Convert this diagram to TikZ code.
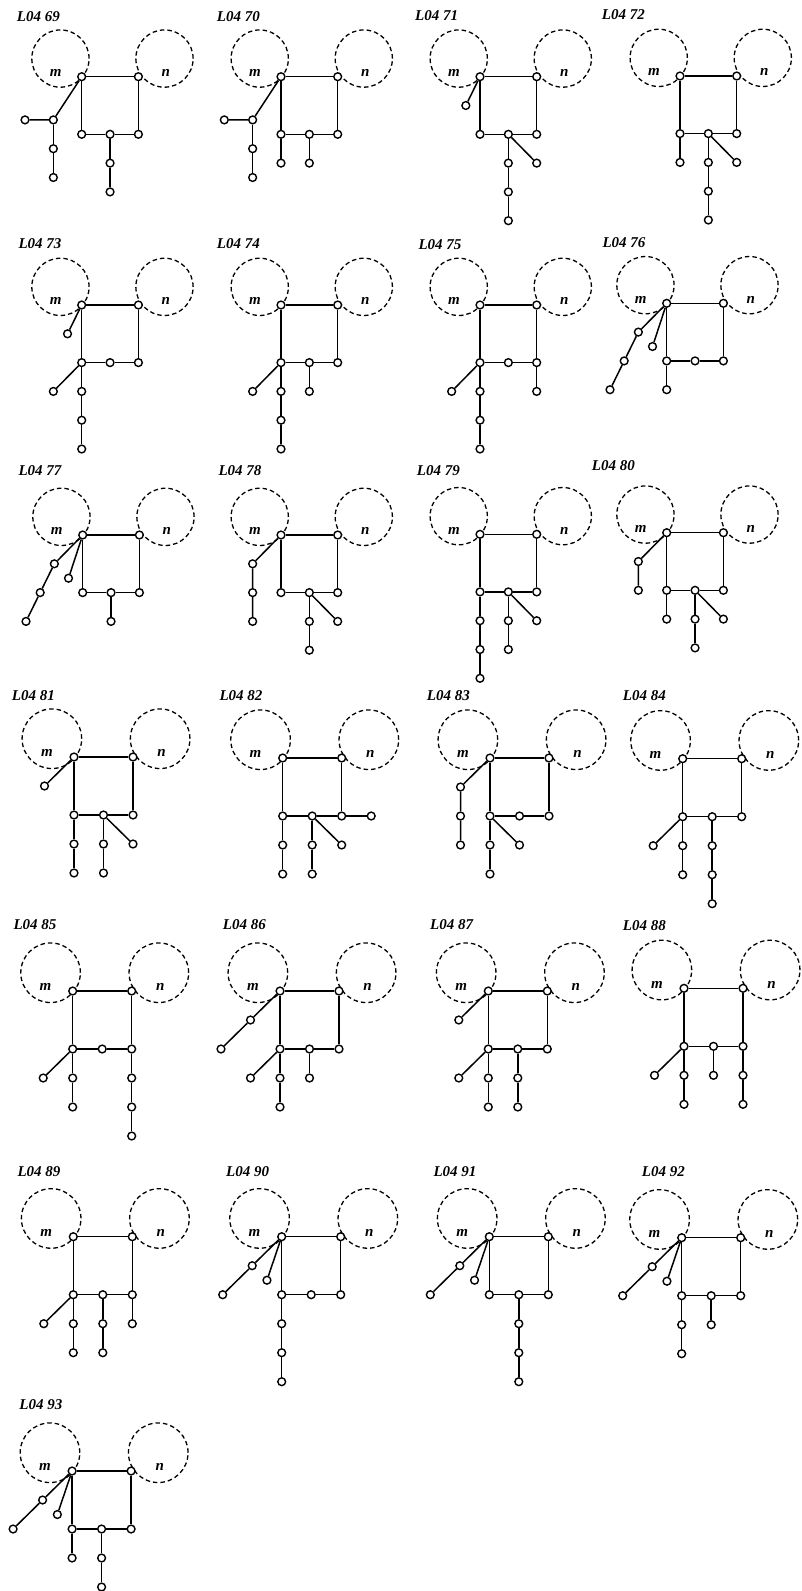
\documentclass[tikz,border=0pt]{standalone}
\usepackage{fontspec}
\setmainfont{Liberation Serif}
\tikzset{
 dot/.style={circle,draw,fill=white,inner sep=0pt,minimum size=7.8pt,line width=1.4pt},
 edge/.style={line width=1.5pt},
 ring/.style={circle,draw,dash pattern=on 4.5pt off 3pt,line width=1.3pt,inner sep=0pt},
 lbl/.style={font=\fontsize{15}{18}\selectfont\bfseries\itshape,inner sep=0pt},
 ttl/.style={font=\fontsize{15}{18}\selectfont\bfseries\itshape,inner sep=0pt,anchor=base west},
}
\newcommand\nd[2]{\node[dot] (#1) at (#2) {};}
\newcommand\panel[6]{%
\begin{scope}[shift={(#2,#3)},x=#4pt,y=-#5pt]
\node[ring,minimum size=2.02*#4pt] (#1rm) at (-0.75,-0.63) {};
\node[ring,minimum size=2.02*#4pt] (#1rn) at (2.92,-0.63) {};
\node[lbl] (#1lm) at (-0.92,-0.13) {m};
\node[lbl] (#1ln) at (2.97,-0.13) {n};
\nd{#1A}{0,0}\nd{#1B}{2,0}\nd{#1C}{0,2}\nd{#1M}{1,2}\nd{#1D}{2,2}
\draw[edge] (#1A)--(#1B)--(#1D)--(#1M)--(#1C)--(#1A);
#6
\end{scope}}
\begin{document}
\begin{tikzpicture}[x=1pt,y=-1pt]
\useasboundingbox (0,0) rectangle (801,1591);
% titles
\node[ttl] (t69) at (16.7,21.3) {L04 69};
\node[ttl] (t70) at (216.7,21.3) {L04 70};
\node[ttl] (t71) at (415,20.7) {L04 71};
\node[ttl] (t72) at (601.7,19) {L04 72};
\node[ttl] (t73) at (18.3,248.3) {L04 73};
\node[ttl] (t74) at (216.7,248.3) {L04 74};
\node[ttl] (t75) at (418.3,249) {L04 75};
\node[ttl] (t76) at (602.3,247.3) {L04 76};
\node[ttl] (t77) at (18.3,475) {L04 77};
\node[ttl] (t78) at (218.3,475) {L04 78};
\node[ttl] (t79) at (416.7,475) {L04 79};
\node[ttl] (t80) at (591.7,470.7) {L04 80};
\node[ttl] (t81) at (11.7,700.3) {L04 81};
\node[ttl] (t82) at (219.3,700.3) {L04 82};
\node[ttl] (t83) at (426.7,700.3) {L04 83};
\node[ttl] (t84) at (622.7,700.3) {L04 84};
\node[ttl] (t85) at (13.3,929) {L04 85};
\node[ttl] (t86) at (222.7,929) {L04 86};
\node[ttl] (t87) at (430,929) {L04 87};
\node[ttl] (t88) at (622.7,930.7) {L04 88};
\node[ttl] (t89) at (17.3,1176.7) {L04 89};
\node[ttl] (t90) at (226,1176.7) {L04 90};
\node[ttl] (t91) at (433.3,1176.7) {L04 91};
\node[ttl] (t92) at (641.7,1176.7) {L04 92};
\node[ttl] (t93) at (19.3,1409) {L04 93};
% row 1
\panel{p69}{81.7}{76.7}{28.35}{28.8}{%
\nd{p69a}{-1,1.5}\nd{p69b}{-2,1.5}\nd{p69c}{-1,2.5}\nd{p69d}{-1,3.5}\nd{p69e}{1,3}\nd{p69f}{1,4}
\draw[edge] (p69A)--(p69a)--(p69b); \draw[edge] (p69a)--(p69c)--(p69d); \draw[edge] (p69M)--(p69e)--(p69f);}
\panel{p70}{281}{76.7}{28.35}{28.8}{%
\nd{p70a}{-1,1.5}\nd{p70b}{-2,1.5}\nd{p70c}{-1,2.5}\nd{p70d}{-1,3.5}\nd{p70e}{0,3}\nd{p70f}{1,3}
\draw[edge] (p70A)--(p70a)--(p70b); \draw[edge] (p70a)--(p70c)--(p70d); \draw[edge] (p70C)--(p70e); \draw[edge] (p70M)--(p70f);}
\panel{p71}{480}{76.7}{28.35}{28.8}{%
\nd{p71a}{-0.5,1}\nd{p71b}{1,3}\nd{p71c}{1,4}\nd{p71d}{1,5}\nd{p71e}{2,3}
\draw[edge] (p71A)--(p71a); \draw[edge] (p71M)--(p71b)--(p71c)--(p71d); \draw[edge] (p71M)--(p71e);}
\panel{p72}{680}{76}{28.35}{28.8}{%
\nd{p72a}{0,3}\nd{p72b}{1,3}\nd{p72c}{1,4}\nd{p72d}{1,5}\nd{p72e}{2,3}
\draw[edge] (p72C)--(p72a); \draw[edge] (p72M)--(p72b)--(p72c)--(p72d); \draw[edge] (p72M)--(p72e);}
% row 2
\panel{p73}{81.7}{305}{28.35}{28.8}{%
\nd{p73a}{-0.5,1}\nd{p73b}{-1,3}\nd{p73c}{0,3}\nd{p73d}{0,4}\nd{p73e}{0,5}
\draw[edge] (p73A)--(p73a); \draw[edge] (p73C)--(p73b); \draw[edge] (p73C)--(p73c)--(p73d)--(p73e);}
\panel{p74}{281}{305}{28.35}{28.8}{%
\nd{p74b}{-1,3}\nd{p74c}{0,3}\nd{p74d}{0,4}\nd{p74e}{0,5}\nd{p74f}{1,3}
\draw[edge] (p74C)--(p74b); \draw[edge] (p74C)--(p74c)--(p74d)--(p74e); \draw[edge] (p74M)--(p74f);}
\panel{p75}{480}{305}{28.35}{28.8}{%
\nd{p75b}{-1,3}\nd{p75c}{0,3}\nd{p75d}{0,4}\nd{p75e}{0,5}\nd{p75f}{2,3}
\draw[edge] (p75C)--(p75b); \draw[edge] (p75C)--(p75c)--(p75d)--(p75e); \draw[edge] (p75D)--(p75f);}
\panel{p76}{666.7}{303.3}{28.35}{28.8}{%
\nd{p76a}{-1,1}\nd{p76b}{-1.5,2}\nd{p76c}{-2,3}\nd{p76d}{-0.5,1.5}\nd{p76e}{0,3}
\draw[edge] (p76A)--(p76a)--(p76b)--(p76c); \draw[edge] (p76A)--(p76d); \draw[edge] (p76C)--(p76e);}
% row 3
\panel{p77}{82.7}{535}{28.35}{28.8}{%
\nd{p77a}{-1,1}\nd{p77b}{-1.5,2}\nd{p77c}{-2,3}\nd{p77d}{-0.5,1.5}\nd{p77e}{1,3}
\draw[edge] (p77A)--(p77a)--(p77b)--(p77c); \draw[edge] (p77A)--(p77d); \draw[edge] (p77M)--(p77e);}
\panel{p78}{281}{535}{28.35}{28.8}{%
\nd{p78a}{-1,1}\nd{p78b}{-1,2}\nd{p78c}{-1,3}\nd{p78d}{1,3}\nd{p78e}{1,4}\nd{p78f}{2,3}
\draw[edge] (p78A)--(p78a)--(p78b)--(p78c); \draw[edge] (p78M)--(p78d)--(p78e); \draw[edge] (p78M)--(p78f);}
\panel{p79}{480}{534.3}{28.35}{28.8}{%
\nd{p79a}{0,3}\nd{p79b}{0,4}\nd{p79c}{0,5}\nd{p79d}{1,3}\nd{p79e}{1,4}\nd{p79f}{2,3}
\draw[edge] (p79C)--(p79a)--(p79b)--(p79c); \draw[edge] (p79M)--(p79d)--(p79e); \draw[edge] (p79M)--(p79f);}
\panel{p80}{666.7}{532.7}{28.35}{28.8}{%
\nd{p80a}{-1,1}\nd{p80b}{-1,2}\nd{p80c}{0,3}\nd{p80d}{1,3}\nd{p80e}{1,4}\nd{p80f}{2,3}
\draw[edge] (p80A)--(p80a)--(p80b); \draw[edge] (p80C)--(p80c); \draw[edge] (p80M)--(p80d)--(p80e); \draw[edge] (p80M)--(p80f);}
% row 4
\panel{p81}{74}{757}{29.5}{29}{%
\nd{p81a}{-1,1}\nd{p81b}{0,3}\nd{p81c}{0,4}\nd{p81d}{1,3}\nd{p81e}{1,4}\nd{p81f}{2,3}
\draw[edge] (p81A)--(p81a); \draw[edge] (p81C)--(p81b)--(p81c); \draw[edge] (p81M)--(p81d)--(p81e); \draw[edge] (p81M)--(p81f);}
\panel{p82}{282.7}{758}{29.5}{29}{%
\nd{p82a}{3,2}\nd{p82b}{0,3}\nd{p82c}{0,4}\nd{p82d}{1,3}\nd{p82e}{1,4}\nd{p82f}{2,3}
\draw[edge] (p82D)--(p82a); \draw[edge] (p82C)--(p82b)--(p82c); \draw[edge] (p82M)--(p82d)--(p82e); \draw[edge] (p82M)--(p82f);}
\panel{p83}{490}{758}{29.5}{29}{%
\nd{p83a}{-1,1}\nd{p83b}{-1,2}\nd{p83c}{-1,3}\nd{p83d}{0,3}\nd{p83e}{0,4}\nd{p83f}{1,3}
\draw[edge] (p83A)--(p83a)--(p83b)--(p83c); \draw[edge] (p83C)--(p83d)--(p83e); \draw[edge] (p83C)--(p83f);}
\panel{p84}{682.7}{758.7}{29.5}{29}{%
\nd{p84a}{-1,3}\nd{p84b}{0,3}\nd{p84c}{0,4}\nd{p84d}{1,3}\nd{p84e}{1,4}\nd{p84f}{1,5}
\draw[edge] (p84C)--(p84a); \draw[edge] (p84C)--(p84b)--(p84c); \draw[edge] (p84M)--(p84d)--(p84e)--(p84f);}
% row 5
\panel{p85}{72.7}{991}{29.5}{29}{%
\nd{p85a}{-1,3}\nd{p85b}{0,3}\nd{p85c}{0,4}\nd{p85d}{2,3}\nd{p85e}{2,4}\nd{p85f}{2,5}
\draw[edge] (p85C)--(p85a); \draw[edge] (p85C)--(p85b)--(p85c); \draw[edge] (p85D)--(p85d)--(p85e)--(p85f);}
\panel{p86}{280}{991}{29.5}{29}{%
\nd{p86a}{-1,1}\nd{p86b}{-2,2}\nd{p86c}{-1,3}\nd{p86d}{0,3}\nd{p86e}{0,4}\nd{p86f}{1,3}
\draw[edge] (p86A)--(p86a)--(p86b); \draw[edge] (p86C)--(p86c); \draw[edge] (p86C)--(p86d)--(p86e); \draw[edge] (p86M)--(p86f);}
\panel{p87}{488.3}{991}{29.5}{29}{%
\nd{p87a}{-1,1}\nd{p87b}{-1,3}\nd{p87c}{0,3}\nd{p87d}{0,4}\nd{p87e}{1,3}\nd{p87f}{1,4}
\draw[edge] (p87A)--(p87a); \draw[edge] (p87C)--(p87b); \draw[edge] (p87C)--(p87c)--(p87d); \draw[edge] (p87M)--(p87e)--(p87f);}
\panel{p88}{684}{988.3}{29.5}{29}{%
\nd{p88a}{-1,3}\nd{p88b}{0,3}\nd{p88c}{0,4}\nd{p88d}{1,3}\nd{p88e}{2,3}\nd{p88f}{2,4}
\draw[edge] (p88C)--(p88a); \draw[edge] (p88C)--(p88b)--(p88c); \draw[edge] (p88M)--(p88d); \draw[edge] (p88D)--(p88e)--(p88f);}
% row 6
\panel{p89}{73.3}{1236.7}{29.5}{29}{%
\nd{p89a}{-1,3}\nd{p89b}{0,3}\nd{p89c}{0,4}\nd{p89d}{1,3}\nd{p89e}{1,4}\nd{p89f}{2,3}
\draw[edge] (p89C)--(p89a); \draw[edge] (p89C)--(p89b)--(p89c); \draw[edge] (p89M)--(p89d)--(p89e); \draw[edge] (p89D)--(p89f);}
\panel{p90}{281.7}{1236.7}{29.5}{29}{%
\nd{p90a}{-1,1}\nd{p90b}{-2,2}\nd{p90c}{-0.5,1.5}\nd{p90d}{0,3}\nd{p90e}{0,4}\nd{p90f}{0,5}
\draw[edge] (p90A)--(p90a)--(p90b); \draw[edge] (p90A)--(p90c); \draw[edge] (p90C)--(p90d)--(p90e)--(p90f);}
\panel{p91}{489.3}{1236.7}{29.5}{29}{%
\nd{p91a}{-1,1}\nd{p91b}{-2,2}\nd{p91c}{-0.5,1.5}\nd{p91d}{1,3}\nd{p91e}{1,4}\nd{p91f}{1,5}
\draw[edge] (p91A)--(p91a)--(p91b); \draw[edge] (p91A)--(p91c); \draw[edge] (p91M)--(p91d)--(p91e)--(p91f);}
\panel{p92}{681.7}{1237.7}{29.5}{29}{%
\nd{p92a}{-1,1}\nd{p92b}{-2,2}\nd{p92c}{-0.5,1.5}\nd{p92d}{0,3}\nd{p92e}{0,4}\nd{p92f}{1,3}
\draw[edge] (p92A)--(p92a)--(p92b); \draw[edge] (p92A)--(p92c); \draw[edge] (p92C)--(p92d)--(p92e); \draw[edge] (p92M)--(p92f);}
% row 7
\panel{p93}{72.1}{1471}{29.5}{29}{%
\nd{p93a}{-1,1}\nd{p93b}{-2,2}\nd{p93c}{-0.5,1.5}\nd{p93d}{0,3}\nd{p93e}{1,3}\nd{p93f}{1,4}
\draw[edge] (p93A)--(p93a)--(p93b); \draw[edge] (p93A)--(p93c); \draw[edge] (p93C)--(p93d); \draw[edge] (p93M)--(p93e)--(p93f);}
\end{tikzpicture}
\end{document}
